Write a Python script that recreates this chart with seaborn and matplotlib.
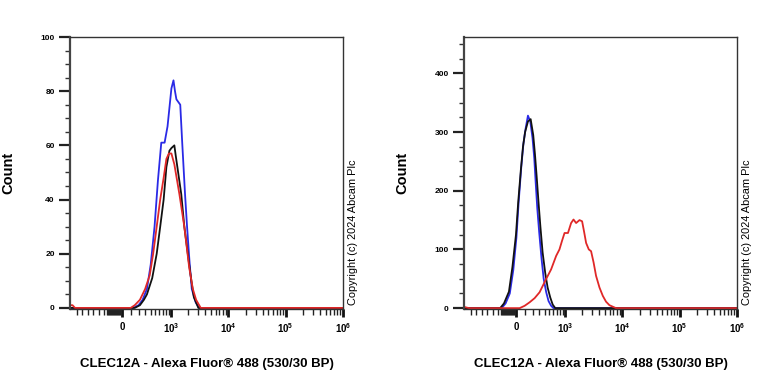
import numpy as np
import pandas as pd
import matplotlib
matplotlib.use("Agg")
import matplotlib.pyplot as plt
import seaborn as sns

# --- data (x in fluorescence units, y in counts) ---
left_blue_x = [-1100, -600, -200, 0, 90, 130, 200, 260, 330, 400, 480, 560, 650, 750, 850, 1000, 1090, 1160, 1230, 1440, 1560, 1750, 1900, 2100, 2300, 2700, 3100, 6000, 50000, 1000000]
left_blue_y = [0, 0, 0, 0, 0, 0, 1, 3, 7, 16, 30, 47, 61, 61, 67, 81, 84, 80, 77, 75, 61, 42, 30, 17, 7, 2, 0, 0, 0, 0]

left_black_x = [-1100, -600, -200, 0, 100, 150, 220, 280, 330, 430, 530, 620, 720, 810, 920, 1000, 1130, 1200, 1280, 1500, 1700, 2070, 2300, 2500, 3000, 6000, 50000, 1000000]
left_black_y = [0, 0, 0, 0, 0, 0, 1, 3, 5, 11, 20, 30, 40, 52, 58, 59, 60, 56, 52, 42, 30, 16, 9, 4, 0, 0, 0, 0]

left_red_x = [-1100, -1000, -900, -600, -200, 0, 100, 150, 220, 300, 380, 450, 530, 620, 720, 810, 900, 1000, 1130, 1390, 1700, 2070, 2400, 2740, 3300, 6000, 50000, 1000000]
left_red_y = [1, 1, 0, 0, 0, 0, 0, 1, 3, 7, 12, 20, 30, 40, 48, 55, 57, 57, 53, 42, 30, 15, 7, 3, 0, 0, 0, 0]

right_blue_x = [-1100, -300, -170, -120, -70, -30, 5, 30, 60, 85, 110, 140, 170, 200, 225, 245, 270, 300, 340, 380, 430, 480, 540, 600, 2000, 50000, 1000000]
right_blue_y = [0, 0, 0, 8, 25, 65, 120, 180, 240, 280, 305, 328, 318, 290, 255, 215, 170, 130, 85, 50, 27, 12, 4, 0, 0, 0, 0]

right_black_x = [-1100, -300, -190, -140, -80, -40, 0, 25, 55, 80, 105, 140, 175, 210, 235, 260, 290, 320, 360, 410, 460, 520, 580, 650, 2000, 50000, 1000000]
right_black_y = [0, 0, 0, 8, 28, 70, 125, 180, 235, 275, 300, 318, 322, 295, 262, 225, 180, 140, 95, 60, 35, 18, 6, 0, 0, 0, 0]

right_red_x = [-1100, -1000, -900, -300, 0, 42, 100, 162, 230, 307, 431, 540, 675, 778, 870, 964, 1112, 1266, 1397, 1554, 1784, 1982, 2150, 2332, 2598, 2850, 3150, 3483, 4000, 4564, 5200, 5964, 7756, 50000, 1000000]
right_red_y = [2, 1, 0, 0, 0, 0, 4, 10, 17, 27, 50, 66, 89, 100, 115, 128, 128, 145, 151, 145, 150, 148, 130, 111, 100, 97, 78, 55, 35, 21, 11, 5, 0, 0, 0]

samples = ["blue", "black", "red"]
colors = {"blue": "#2a2ae6", "black": "#111111", "red": "#e02828"}

xlabel = "CLEC12A - Alexa Fluor® 488 (530/30 BP)"
copyright_txt = "Copyright (c) 2024 Abcam Plc"
x_major = [0, 1e3, 1e4, 1e5, 1e6]
x_major_labels = ["0", "$10^3$", "$10^4$", "$10^5$", "$10^6$"]


def make_df(xs, ys):
    rows = []
    for name, x, y in zip(samples, xs, ys):
        rows.append(pd.DataFrame({"x": x, "count": y, "sample": name}))
    return pd.concat(rows, ignore_index=True)


df_left = make_df([left_blue_x, left_black_x, left_red_x], [left_blue_y, left_black_y, left_red_y])
df_right = make_df([right_blue_x, right_black_x, right_red_x], [right_blue_y, right_black_y, right_red_y])

# biexponential-like display (asinh)
W = 280.0


def fwd(x):
    return np.arcsinh(np.asarray(x, dtype=float) / W) / np.log(10)


def inv(u):
    return W * np.sinh(np.asarray(u, dtype=float) * np.log(10))


x_minor = [-835, -657, -518, -398, -296, -215]
x_minor += list(range(-180, 1, 12))
x_minor += [100, 200, 300, 400, 500, 600, 700, 800, 900]
for dec in [1e3, 1e4, 1e5]:
    x_minor += [k * dec for k in range(2, 10)]

sns.set_theme(style="white")
plt.rcParams["font.family"] = ["Liberation Sans", "DejaVu Sans"]
plt.rcParams["mathtext.default"] = "regular"
plt.rcParams["text.color"] = "black"
plt.rcParams["axes.labelcolor"] = "black"
plt.rcParams["xtick.labelcolor"] = "black"
plt.rcParams["ytick.labelcolor"] = "black"

fig = plt.figure(figsize=(7.68, 3.84), dpi=100)
ax_l = fig.add_axes([70 / 768, 75 / 384, 273 / 768, 272 / 384])
ax_r = fig.add_axes([464 / 768, 75 / 384, 273 / 768, 272 / 384])

panels = [
    (ax_l, df_left, (-0.4, 100), [0, 20, 40, 60, 80, 100], np.arange(0, 101, 5)),
    (ax_r, df_right, (-1.5, 462), [0, 100, 200, 300, 400], np.arange(0, 462, 25)),
]

for ax, df, ylim, y_major, y_minor in panels:
    for name in samples:
        sub = df[df["sample"] == name]
        sns.lineplot(data=sub, x="x", y="count", color=colors[name], sort=False,
                     estimator=None, linewidth=1.3, ax=ax, legend=False)
    ax.set_xscale("function", functions=(fwd, inv))
    ax.set_xlim(-1110, 1.0e6)
    ax.set_ylim(*ylim)
    ax.set_xticks(x_major)
    ax.set_xticklabels(x_major_labels)
    ax.set_xticks(x_minor, minor=True)
    ax.set_yticks(y_major)
    ax.set_yticks(y_minor, minor=True)
    ax.tick_params(axis="x", which="both", bottom=True)
    ax.tick_params(axis="y", which="both", left=True)
    ax.tick_params(axis="x", which="major", direction="out", length=6, width=2,
                   color="#111111", labelsize=7, pad=3, labelcolor="black")
    ax.tick_params(axis="x", which="minor", direction="out", length=4, width=1,
                   color="#222222")
    ax.tick_params(axis="y", which="major", direction="out", length=8, width=1.6,
                   color="#222222", labelsize=6, pad=3, labelcolor="black")
    ax.tick_params(axis="y", which="minor", direction="out", length=3.5, width=1,
                   color="#333333")
    for lab in ax.get_xticklabels() + ax.get_yticklabels():
        lab.set_fontweight("bold")
    for side in ["top", "right", "bottom"]:
        ax.spines[side].set_color("#333333")
        ax.spines[side].set_linewidth(1.0)
    ax.spines["left"].set_color("#444444")
    ax.spines["left"].set_linewidth(1.6)
    ax.set_xlabel(xlabel, fontsize=9.5, fontweight="bold", labelpad=16, color="black")
    ax.set_ylabel("Count", fontsize=10.5, fontweight="bold", color="black")
    ax.text(1.035, 0.015, copyright_txt, transform=ax.transAxes, rotation=90,
            ha="center", va="bottom", fontsize=7.9, color="black")

ax_l.yaxis.set_label_coords(-0.2, 0.5)
ax_r.yaxis.set_label_coords(-0.2, 0.5)

fig.savefig("out.png", dpi=100)
